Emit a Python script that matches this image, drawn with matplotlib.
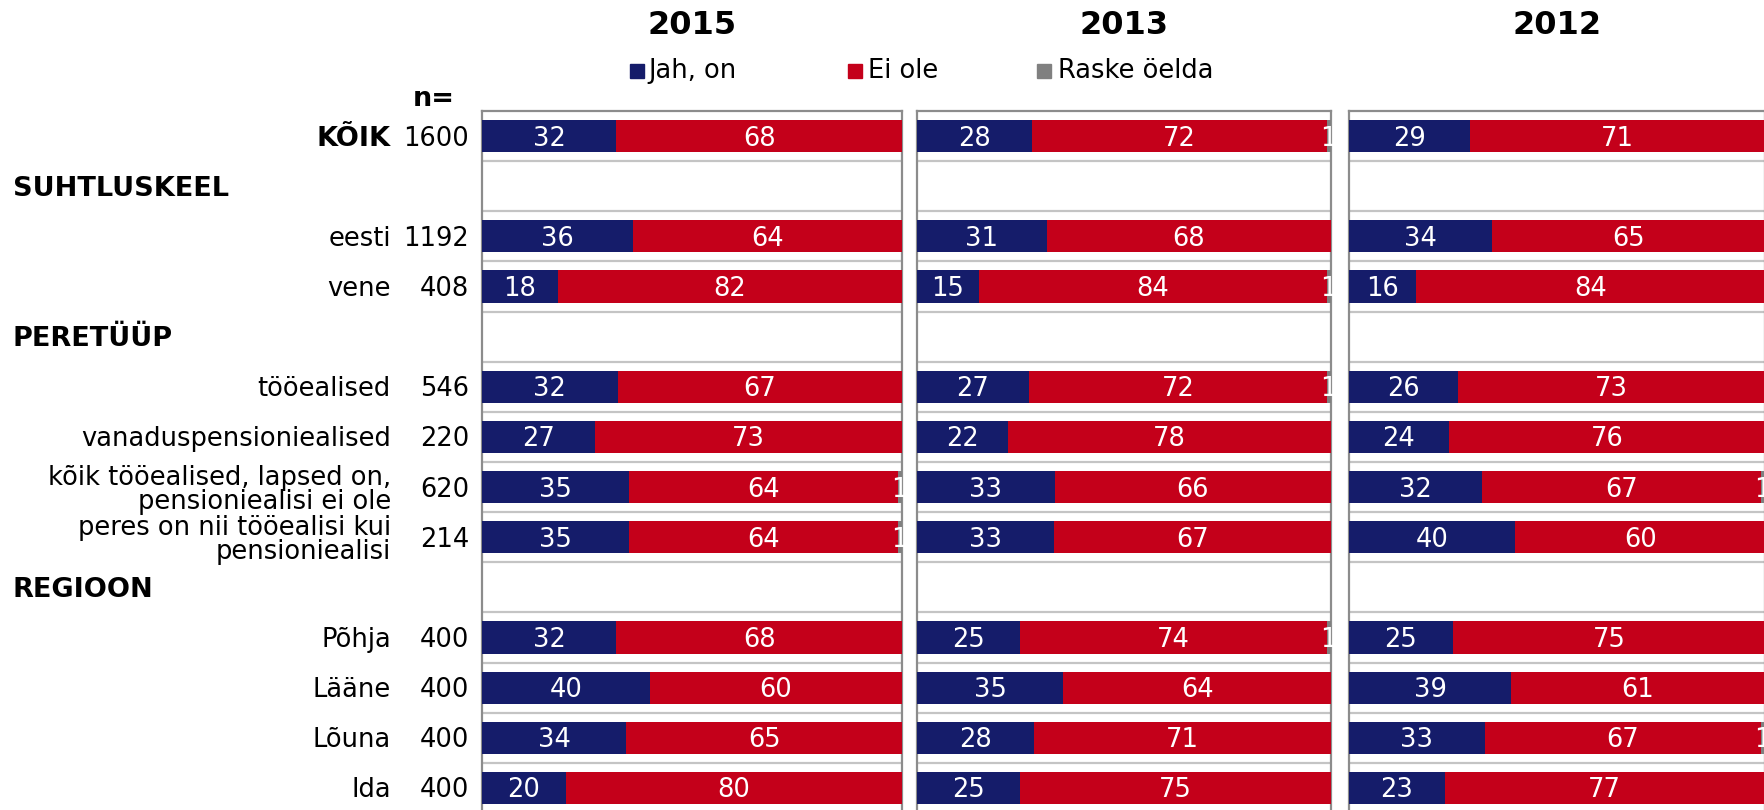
import numpy as np
import matplotlib
matplotlib.use("Agg")
import matplotlib.pyplot as plt
from matplotlib.patches import Rectangle
from matplotlib.transforms import blended_transform_factory, offset_copy

nan = np.nan

categories = ["KÕIK", "SUHTLUSKEEL", "eesti", "vene", "PERETÜÜP", "tööealised",
              "vanaduspensioniealised", "kõik tööealised, lapsed on,\npensioniealisi ei ole",
              "peres on nii tööealisi kui\npensioniealisi", "REGIOON",
              "Põhja", "Lääne", "Lõuna", "Ida"]
row_kind = ["total", "header", "cat", "cat", "header", "cat", "cat", "cat", "cat",
            "header", "cat", "cat", "cat", "cat"]
n_values = ["1600", "", "1192", "408", "", "546", "220", "620", "214", "",
            "400", "400", "400", "400"]

years = ["2015", "2013", "2012"]
series_names = ["Jah, on", "Ei ole", "Raske öelda"]
colors = ["#151C6A", "#C4001A", "#808080"]

jah_2015 = [32, nan, 36, 18, nan, 32, 27, 35, 35, nan, 32, 40, 34, 20]
ei_2015 = [68, nan, 64, 82, nan, 67, 73, 64, 64, nan, 68, 60, 65, 80]
raske_2015 = [0, nan, 0, 0, nan, 0, 0, 1, 1, nan, 0, 0, 0, 0]

jah_2013 = [28, nan, 31, 15, nan, 27, 22, 33, 33, nan, 25, 35, 28, 25]
ei_2013 = [72, nan, 68, 84, nan, 72, 78, 66, 67, nan, 74, 64, 71, 75]
raske_2013 = [1, nan, 0, 1, nan, 1, 0, 0, 0, nan, 1, 0, 0, 0]

jah_2012 = [29, nan, 34, 16, nan, 26, 24, 32, 40, nan, 25, 39, 33, 23]
ei_2012 = [71, nan, 65, 84, nan, 73, 76, 67, 60, nan, 75, 61, 67, 77]
raske_2012 = [0, nan, 0, 0, nan, 0, 0, 1, 0, nan, 0, 0, 1, 0]

data = {
    "2015": [jah_2015, ei_2015, raske_2015],
    "2013": [jah_2013, ei_2013, raske_2013],
    "2012": [jah_2012, ei_2012, raske_2012],
}

W, H = 1765, 810
fig = plt.figure(figsize=(W / 100, H / 100), dpi=100)
plt.rcParams['font.family'] = ['DejaVu Sans']

panel_px = [(482, 902), (917, 1331), (1349, 1765)]
top_px, bot_px = 111, 813
FS = 18.5
DY = -2.5  # text nudge down, in pixels

nrows = len(categories)
ypos = np.arange(nrows)
axes = []
for (x0, x1), yr in zip(panel_px, years):
    ax = fig.add_axes([x0 / W, (H - bot_px) / H, (x1 - x0) / W, (bot_px - top_px) / H])
    axes.append(ax)
    ttr = offset_copy(ax.transData, fig=fig, x=0, y=DY, units='dots')
    vals = [np.array(s, dtype=float) for s in data[yr]]
    total = vals[0] + vals[1] + vals[2]
    left = np.zeros(nrows)
    for k, (v, c) in enumerate(zip(vals, colors)):
        w = np.nan_to_num(v / total * 100)
        ax.barh(ypos, w, left=left, height=0.64, color=c, edgecolor='none', zorder=3)
        for i in range(nrows):
            if np.isnan(v[i]) or v[i] <= 0:
                continue
            cx = left[i] + w[i] / 2
            if k == 2:
                cx = min(cx, 99.3)
            ax.text(cx, ypos[i], f"{int(v[i])}", ha='center', va='center',
                    color='white', fontsize=FS, zorder=5, clip_on=False, transform=ttr)
        left = left + w
    ax.set_xlim(0, 100)
    ax.set_ylim(nrows - 0.5, -0.5)
    for b in np.arange(0.5, nrows - 0.5, 1):
        ax.axhline(b, color='#C4C4C4', lw=1.6, zorder=1)
    ax.set_xticks([])
    ax.set_yticks([])
    for sp in ax.spines.values():
        sp.set_color('#8C8C8C')
        sp.set_linewidth(1.6)
    fig.text(((x0 + x1) / 2) / W, 1 - 25 / H, yr, ha='center', va='center',
             fontsize=23, fontweight='bold')

# left labels
tr = offset_copy(blended_transform_factory(fig.transFigure, axes[0].transData),
                 fig=fig, x=0, y=DY, units='dots')
for i, (lab, kind, n) in enumerate(zip(categories, row_kind, n_values)):
    if kind == "header":
        axes[0].text(13 / W, i, lab, transform=tr, ha='left', va='center',
                     fontsize=19.5, fontweight='bold', clip_on=False)
    else:
        axes[0].text(391 / W, i, lab, transform=tr, ha='right', va='center',
                     fontsize=FS if kind == "cat" else 19.5,
                     fontweight='bold' if kind == "total" else 'normal',
                     linespacing=0.9, clip_on=False)
        axes[0].text(469 / W, i, n, transform=tr, ha='right', va='center',
                     fontsize=FS, clip_on=False)

fig.text(434 / W, 1 - 99 / H, "n=", ha='center', va='center', fontsize=19.5, fontweight='bold')

# legend
leg_items = [(630, 648), (848, 868), (1037, 1058)]
sq = 14
for (sx, tx), name, c in zip(leg_items, series_names, colors):
    fig.patches.append(Rectangle((sx / W, (H - 71 - sq / 2) / H), sq / W, sq / H,
                                 transform=fig.transFigure, color=c))
    fig.text(tx / W, 1 - 71 / H, name, ha='left', va='center', fontsize=FS)

fig.savefig("out.png", dpi=100)
